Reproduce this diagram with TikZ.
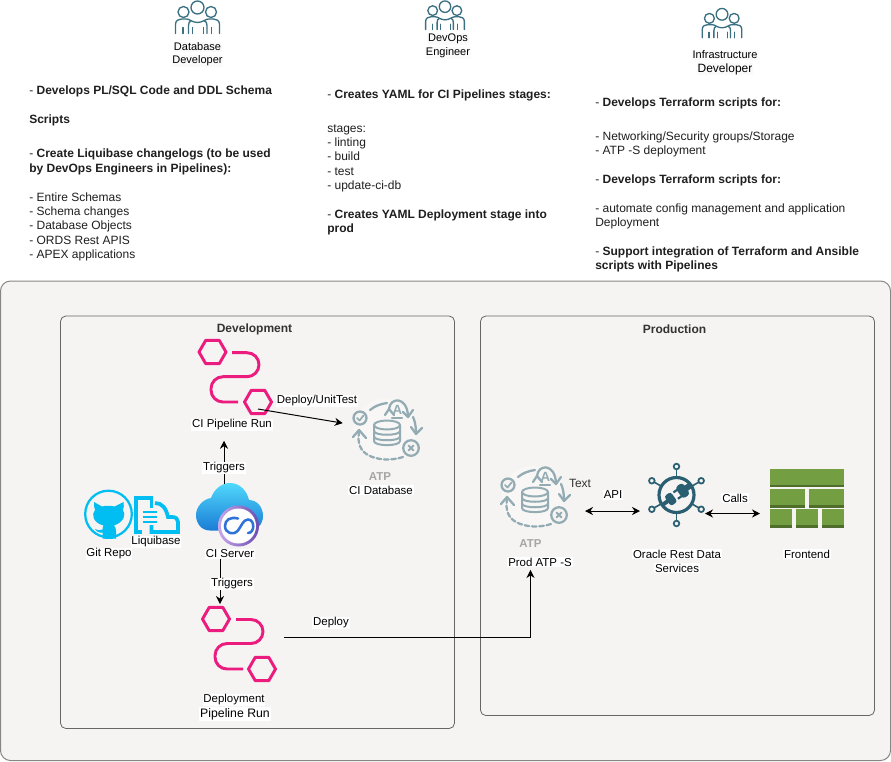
\documentclass[tikz,border=0pt]{standalone}
\usepackage{fontspec}
\setmainfont{Liberation Sans}
\usetikzlibrary{arrows.meta,calc}
\definecolor{panel}{HTML}{F5F4F2}
\definecolor{teamc}{HTML}{3A7082}
\definecolor{atpc}{HTML}{93ABB3}
\definecolor{pinkc}{HTML}{EC1C7E}
\definecolor{skyc}{HTML}{00BEF2}
\definecolor{ordsc}{HTML}{2A5F72}
\definecolor{brick}{HTML}{739E41}
\definecolor{brickd}{HTML}{4F6D2B}
\definecolor{cloudt}{HTML}{50D8FB}
\definecolor{cloudb}{HTML}{1A7CD6}
\definecolor{ringl}{HTML}{C9A8EC}
\definecolor{ringr}{HTML}{6A4BB0}
\definecolor{infc}{HTML}{2F72D8}
\tikzset{
  x=0.75pt,y=-0.75pt,
  bigpanel/.style={draw=black!45!panel,fill=panel,rounded corners=7.5pt,line width=0.75pt},
  zone/.style={draw=black!60,rounded corners=4pt,line width=0.6pt},
  body/.style={anchor=north west,inner sep=0pt,align=left,text=black!88,font=\fontsize{9}{10.75}\selectfont},
  lbl/.style={fill=white,inner sep=0.6pt,text=black,yshift=-0.75pt,font=\fontsize{8.6}{10.5}\selectfont,align=center},
  lblbig/.style={lbl,font=\fontsize{9.2}{10.5}\selectfont},
  capt/.style={lbl,fill=black!2,font=\fontsize{8.25}{10.5}\selectfont},
  head/.style={inner sep=0.5pt,text=black!80,yshift=-1pt,font=\bfseries\fontsize{9}{10}\selectfont},
  atplbl/.style={inner sep=0pt,text=black!35,font=\bfseries\fontsize{8.6}{10}\selectfont},
  host/.style={inner sep=0pt,outer sep=0pt,draw=none,fill=none},
  conn/.style={line width=0.75pt,draw=black,-{Stealth[length=6pt,width=6pt]}},
  conn2/.style={line width=0.75pt,draw=black,{Stealth[length=6pt,width=6pt]}-{Stealth[length=6pt,width=6pt]}},
  teamline/.style={draw=teamc,line width=1pt,line cap=round,line join=round},
  atpline/.style={draw=atpc,line width=1.7pt,line cap=round,line join=round},
  pinkline/.style={draw=pinkc,line width=2.2pt,line join=round},
}
\newcommand{\teamicon}[3]{%
 \begin{scope}[shift={(#1,#2)},scale=#3]
  \draw[teamline] (-14,11.5) circle[radius=5.5];
  \draw[teamline] (13.5,11.5) circle[radius=5.5];
  \draw[teamline] (0,7) circle[radius=6.5];
  \draw[teamline] (-22,33) -- (-22,24) .. controls (-22,20) and (-19,18.5) .. (-16,18.5) -- (-11,18.5)
     .. controls (-8,18.5) and (-5,22) .. (0,22) .. controls (5,22) and (8,18.5) .. (11,18.5) -- (16,18.5)
     .. controls (19,18.5) and (22,20) .. (22,24) -- (22,33);
  \draw[teamline] (-14.5,27) -- (-14.5,33);
  \draw[teamline] (-9,33) -- (-9,25) .. controls (-9,22) and (-8,21) .. (-6.5,20.5);
  \draw[teamline] (-5,27) -- (-5,33);
  \draw[teamline] (6,27) -- (6,33);
  \draw[teamline] (9.5,33) -- (9.5,25) .. controls (9.5,22) and (8.5,21) .. (7,20.5);
  \draw[teamline] (14,27) -- (14,33);
 \end{scope}}
\newcommand{\hexa}[2]{%
  \draw[pinkline] ($(#1,#2)+(-13.5,0)$) -- ($(#1,#2)+(-6.75,-11.7)$) -- ($(#1,#2)+(6.75,-11.7)$)
    -- ($(#1,#2)+(13.5,0)$) -- ($(#1,#2)+(6.75,11.7)$) -- ($(#1,#2)+(-6.75,11.7)$) -- cycle;}
\newcommand{\atpicon}[3]{%
 \begin{scope}[shift={(#1,#2)}]
  \fill[white,opacity=.35] (0,0) circle[radius=31];
  \draw[atpline,fill=panel] (-25,-12) circle[radius=6.5];
  \draw[atpline,line width=1.3pt] (-28,-12) -- (-25.5,-9.5) -- (-21.5,-14.5);
  \draw[atpline,fill=panel] (26,18) circle[radius=7.8];
  \draw[atpline,line width=1.4pt] (23.5,15.5) -- (28.5,20.5) (23.5,20.5) -- (28.5,15.5);
  \draw[atpline,line width=1.5pt] (-11,-5) -- (-11,11) .. controls (-11,16.5) and (15,16.5) .. (15,11) -- (15,-5);
  \draw[atpline,line width=1.5pt] (2,-5) ellipse[x radius=13,y radius=4.5];
  \draw[atpline,line width=1.5pt] (-11,1) .. controls (-11,6) and (15,6) .. (15,1);
  \draw[atpline,line width=1.5pt] (-11,6.5) .. controls (-11,11.5) and (15,11.5) .. (15,6.5);
  \draw[atpline] (-15,-20) .. controls (-10,-24) and (-5,-26) .. (2,-27);
  \draw[atpline] (28,-13) .. controls (30,-9) and (31,-3) .. (31,3);
  \draw[atpline] (26,-3) -- (31,4) -- (37,-2);
  \draw[atpline,dash pattern=on 3.5pt off 2pt] (18,27) .. controls (6,31) and (-8,30) .. (-17,25)
      .. controls (-24,21) and (-28,14) .. (-26,2);
  \draw[atpline] (-32,7) -- (-26,0) -- (-19,8);
  \draw[atpline] (4,-21) .. controls (5,-33) and (22,-34) .. (23,-14);
  \draw[atpline] (0,-15) -- (4,-21) -- (9,-15);
  \draw[atpline] (18,-18) -- (23,-13) -- (28,-20);
  \draw[atpline] (7,-12) -- (17,-12);
  \node[host,text=atpc,font=\bfseries\fontsize{10}{11}\selectfont] (#3) at (12.5,-20) {A};
 \end{scope}}
\begin{document}
\begin{tikzpicture}
\useasboundingbox (0,0) rectangle (891,761);
\fill[white] (0,0) rectangle (891,761);

% Team icons and captions
\teamicon{197.5}{0.5}{1}
\teamicon{445}{0.5}{0.88}
\teamicon{722}{8}{0.9}
\node[capt] (dbdev) at (197.5,46) {Database};
\node[capt] (dbdevb) at (197.5,60) {Developer};
\node[capt] (devops) at (448,38) {DevOps};
\node[capt] (devopsb) at (448,52) {Engineer};
\node[capt] (infra) at (725,54) {Infrastructure};
\node[capt,font=\fontsize{9}{10.5}\selectfont] (infradev) at (725,68) {Developer};

% Column texts
\node[body] (c1a) at (29,84) {\strut- \textbf{Develops PL/SQL Code and DDL Schema}};
\node[body] (c1b) at (29,113) {\strut\textbf{Scripts}};
\node[body] (c1c) at (29,147.5) {\strut- \textbf{Create Liquibase changelogs (to be used}\\\textbf{by DevOps Engineers in Pipelines):}};
\node[body] (c1d) at (29,191) {\strut- Entire Schemas\\- Schema changes\\- Database Objects\\- ORDS Rest APIS\\- APEX applications};

\node[body] (c2a) at (327,88) {\strut- \textbf{Creates YAML for CI Pipelines stages:}};
\node[body] (c2b) at (327,122) {\strut stages:\\- linting\\- build\\- test\\- update-ci-db};
\node[body] (c2c) at (327,208) {\strut- \textbf{Creates YAML Deployment stage into}\\\textbf{prod}};

\node[body] (c3a) at (595,96) {\strut- \textbf{Develops Terraform scripts for:}};
\node[body] (c3b) at (595,130) {\strut- Networking/Security groups/Storage\\- ATP -S deployment};
\node[body] (c3c) at (595,173) {\strut- \textbf{Develops Terraform scripts for:}};
\node[body] (c3d) at (595,202) {\strut- automate config management and application\\Deployment};
\node[body] (c3e) at (595,245) {\strut- \textbf{Support integration of Terraform and Ansible}\\\textbf{scripts with Pipelines}};

% Panels
\draw[bigpanel] (0.5,281) rectangle (890.5,760.5);
\draw[zone] (60.5,316) rectangle (454.5,728.5);
\draw[zone] (480.5,316) rectangle (874.5,715.5);
\node[head] (devhead) at (254.5,328) {Development};
\node[head] (prodhead) at (674.5,328) {Production};

% CI pipeline icon
\hexa{212.5}{352}
\hexa{258}{402}
\draw[pinkline,rounded corners=9pt] (232,352.7) -- (259,352.7) -- (259,376.7) -- (211,376.7) -- (211,402) -- (238,402);

% Deployment pipeline icon
\hexa{216}{619}
\hexa{262}{669}
\draw[pinkline,rounded corners=9pt] (236,619.5) -- (263,619.5) -- (263,643.5) -- (215,643.5) -- (215,669) -- (243,669);

% Git icon
\draw[skyc,line width=1.7pt] (108.5,514) circle[radius=23.3];
\fill[skyc] (94,502) -- (102,506.5) .. controls (105,505.5) and (111,505.5) .. (114.5,506.5) -- (123.5,502)
  .. controls (124,505) and (124,507.5) .. (123,510) .. controls (126,514) and (124.5,522) .. (114,525.5)
  .. controls (115.5,527) and (116,529) .. (116,531) -- (116,538.5) .. controls (111,539) and (106,539) .. (102.5,538.5)
  -- (102.5,532.5) .. controls (99,533) and (96,531.5) .. (94.5,529) .. controls (97,530) and (99,530.5) .. (102.5,529.5)
  .. controls (102.5,527.5) and (103,526.5) .. (103.5,525.5)
  .. controls (93,523) and (91,514) .. (95,510) .. controls (94,507.5) and (94,505) .. (94,502) -- cycle;

% Liquibase icon
\draw[skyc,line width=2.8pt,line join=miter] (142,532) -- (136,532) -- (136,498) -- (151.5,498) -- (151.5,508);
\draw[skyc,line width=2.8pt,line join=miter] (151.5,525) -- (151.5,532) -- (178,532) -- (178,522) .. controls (178,519) and (176,517) .. (172,517) -- (168,517) .. controls (166,508) and (162,503) .. (155,503);
\draw[skyc,line width=1.5pt] (143,512) -- (157,512) (143,517) -- (157,517) (143,522) -- (157,522);
\node[lbl] (liqlbl) at (156,541) {Liquibase};
\node[lbl] (gitlbl) at (109,553) {Git Repo};

% Cloud
\shade[top color=cloudt,bottom color=cloudb] (210,530.5) .. controls (201,530.5) and (196,523) .. (196,515)
  .. controls (196,507) and (203,499) .. (211,498) .. controls (214,489) and (222,483) .. (230,483)
  .. controls (240,483) and (247,491) .. (249,500) .. controls (257,500) and (263,507) .. (263,516)
  .. controls (263,525) and (256,530.5) .. (250,530.5) -- cycle;
\shade[left color=ringl,right color=ringr] (238.5,526) circle[radius=20.5];
\fill[white] (238.5,526) circle[radius=17.5];
\draw[infc,line width=1.9pt,line cap=round] (238,518.5) .. controls (230,516.5) and (225,520) .. (225,526)
  .. controls (225,533) and (233,536) .. (238,530.5) .. controls (241,527) and (243,519.5) .. (248,519.5)
  .. controls (255,519.5) and (255,533) .. (248,533);
\node[lbl] (cisrv) at (230,553) {CI Server};

% CI pipeline labels and anchors
\node[lbl] (cirun) at (232,424) {CI Pipeline Run};
\node[host,minimum width=2pt,minimum height=2pt] (cistart) at (258,409) {};
\node[host,minimum width=50pt,minimum height=35pt] (cloud) at (224,507) {};
\node[host,minimum width=24pt,minimum height=22.5pt] (dephex) at (220,619) {};
\node[host,minimum width=63pt,minimum height=46pt] (deppipe) at (242,637) {};

% ATP CI
\atpicon{385}{430}{atpA}
\node[host,minimum width=55.5pt,minimum height=40pt] (ciatp) at (385,424) {};
\node[atplbl] (atplbl1) at (380,477) {ATP};
\node[lbl] (cidb) at (381,489) {CI Database};

% ATP Prod
\atpicon{533}{497}{atpB}
\node[host,minimum width=75pt,minimum height=40pt] (prodatp) at (535,511) {};
\node[atplbl] (atplbl2) at (530.5,544) {ATP};
\node[lbl] (prodlbl) at (540,561) {Prod ATP -S};
\node[inner sep=0pt,text=black!80,font=\fontsize{9}{10}\selectfont] (textlbl) at (580,483) {Text};

% ORDS
\foreach \a in {90,30,150,210,330,270}{
  \draw[ordsc,line width=1.2pt] (676.5,495) -- ($(676.5,495)+(\a:26)$);
  \draw[ordsc,line width=1.3pt,fill=panel] ($(676.5,495)+(\a:28.5)$) circle[radius=2.8];
}
\draw[ordsc,line width=2.4pt,fill=panel] (676.5,495) circle[radius=17.5];
\begin{scope}[shift={(676.5,495)},rotate=35]
  \fill[ordsc,rounded corners=2.5pt] (3,-7) rectangle (12,7);
  \fill[ordsc] (8,-3) rectangle (17,3);
  \fill[ordsc] (-1,-5) rectangle (4,-2.8) (-1,2.8) rectangle (4,5);
  \fill[ordsc,rounded corners=2pt] (-11,-6) rectangle (-3,6);
  \fill[ordsc] (-17,-2) rectangle (-9,2);
\end{scope}
\node[host,minimum width=48.75pt,minimum height=30pt] (ords) at (672.5,511) {};
\node[lbl] (ordslbl) at (677,553) {Oracle Rest Data};
\node[lbl] (ordslblb) at (677,567) {Services};

% Frontend
\foreach \xa/\xb/\ya/\yb in {770/844/469/487,770/804.7/489/507.5,809/844/489/507.5,770/792/509/527.5,796/818/509/527.5,822/844/509/527.5}{
  \fill[brick] (\xa,\ya) rectangle (\xb,\yb);
  \fill[brickd] (\xa,\yb-2.5) rectangle (\xb,\yb);
}
\node[host,minimum width=63pt,minimum height=44pt] (front) at (802,513.5) {};
\node[lbl] (frontlbl) at (807,553) {Frontend};

% Deployment labels
\node[lbl] (deplbl) at (234,699) {Deployment};
\node[lblbig] (pipelbl) at (235,713) {Pipeline Run};

% Connectors
\draw[conn,shorten >=4pt] (cistart.center) -- (ciatp.west);
\node[lbl] (dulbl) at (317,400) {Deploy/UnitTest};

\node[host] (trigAnchor) at (224,467) {};
\draw[conn,shorten >=7pt] (trigAnchor.center |- cloud.north) -- (trigAnchor.center |- cirun.south);
\node[lbl] (trigA) at (224,467) {Triggers};

\draw[conn] (dephex.north |- cisrv.south) -- (dephex.north);
\node[lbl] (trigB) at (232,583) {Triggers};

\draw[conn,shorten >=2pt] (deppipe.east) -| (atplbl2.center |- prodlbl.south);
\node[lbl] (deploylbl) at (331,622) {Deploy};

\draw[conn2] (prodatp.east) -- (ords.west);
\node[lbl] (apilbl) at (613,494) {API};
\draw[conn2] (ords.east |- front.west) -- (front.west);
\node[lbl] (callslbl) at (735,497) {Calls};
\end{tikzpicture}
\end{document}
